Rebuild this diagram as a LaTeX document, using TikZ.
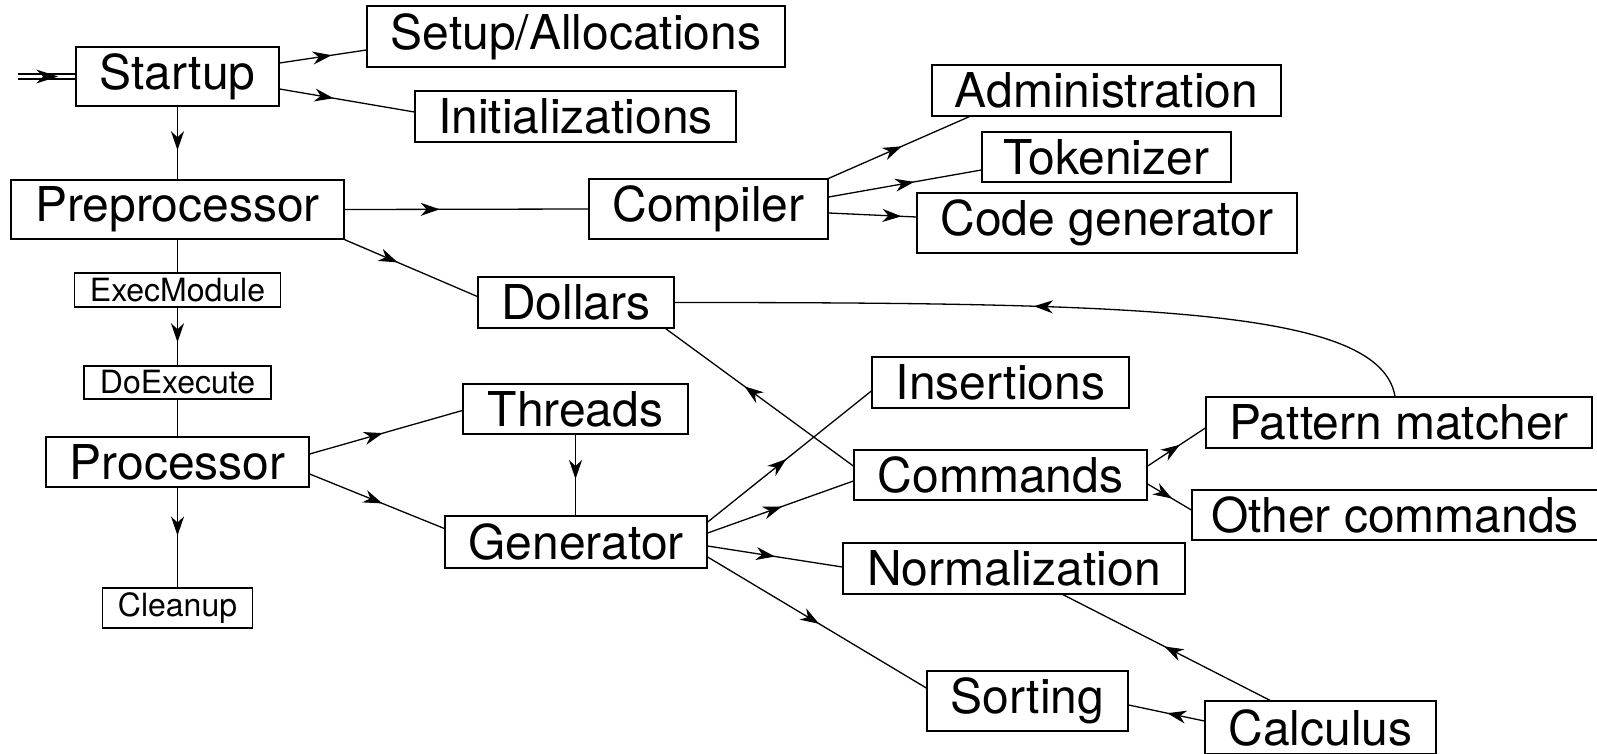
\documentclass[tikz,border=0pt]{standalone}
\usepackage{fontspec}
\setmainfont{TeX Gyre Heros}
\usetikzlibrary{arrows.meta,decorations.markings,calc}
\tikzset{
  box/.style={draw, line width=1.3pt, inner sep=0pt, font=\fontsize{48}{57}\selectfont},
  sbox/.style={box, font=\fontsize{32}{38}\selectfont},
  conn/.style={line width=1.3pt},
  midarrow/.style={postaction={decorate}, decoration={markings, mark=at position #1 with {\arrow{Stealth[length=19pt,width=13pt,inset=6pt]}}}},
}
\begin{document}
\begin{tikzpicture}[x=1pt,y=-1pt]
\useasboundingbox (0,0) rectangle (1597,753);
% nodes
\node[box, minimum width=203pt, minimum height=59pt] (startup) at (177.5,76.5) {Startup};
\node[box, minimum width=418pt, minimum height=61pt] (setup) at (576,36.5) {Setup/Allocations};
\node[box, minimum width=321pt, minimum height=51pt] (init) at (575.5,116.5) {Initializations};
\node[box, minimum width=333pt, minimum height=59pt] (preproc) at (177.5,209.5) {Preprocessor};
\node[box, minimum width=239pt, minimum height=60pt] (compiler) at (708.5,209) {Compiler};
\node[box, minimum width=349pt, minimum height=51pt] (admin) at (1106.5,90.5) {Administration};
\node[box, minimum width=249pt, minimum height=50pt] (token) at (1106.5,157) {Tokenizer};
\node[box, minimum width=380pt, minimum height=60pt] (codegen) at (1107,223) {Code generator};
\node[sbox, minimum width=206pt, minimum height=34pt] (execm) at (177.5,290) {ExecModule};
\node[box, minimum width=196pt, minimum height=51pt] (dollars) at (576,302.5) {Dollars};
\node[sbox, minimum width=187pt, minimum height=33pt] (doexec) at (177.5,382.5) {DoExecute};
\node[box, minimum width=263pt, minimum height=50pt] (proc) at (177.5,462) {Processor};
\node[box, minimum width=225pt, minimum height=50pt] (threads) at (575.5,409) {Threads};
\node[box, minimum width=257pt, minimum height=51pt] (insert) at (1000.5,382.5) {Insertions};
\node[box, minimum width=386pt, minimum height=51pt] (pm) at (1399,422.5) {Pattern matcher};
\node[box, minimum width=293pt, minimum height=50pt] (commands) at (1000.5,475) {Commands};
\node[box, minimum width=406pt, minimum height=50pt] (other) at (1395,515) {Other commands};
\node[box, minimum width=262pt, minimum height=52pt] (gen) at (576,542) {Generator};
\node[box, minimum width=342pt, minimum height=51pt] (norm) at (1014,568.5) {Normalization};
\node[sbox, minimum width=150pt, minimum height=40pt] (cleanup) at (177.5,608) {Cleanup};
\node[box, minimum width=201pt, minimum height=60pt] (sorting) at (1027.5,701) {Sorting};
\node[box, minimum width=231pt, minimum height=53pt] (calc) at (1320.5,727.5) {Calculus};
% entry
\coordinate (in) at (18,76.5);
\coordinate (intip) at ($(in)!0.7!(startup.west)$);
\draw[line width=1.3pt, double, double distance=3.5pt] (in) -- (startup.west);
\fill (intip) -- ++(-22,-7) -- ++(7,7) -- ++(-7,7) -- cycle;
% connectors
\draw[conn, midarrow=0.6] ($(startup.east)+(0,-13.5)$) -- ($(setup.west)+(0,13.5)$);
\draw[conn, midarrow=0.4] ($(startup.east)+(0,12.5)$) -- ($(init.west)+(0,-4.5)$);
\draw[conn, midarrow=0.6] (startup.south) -- (preproc.north);
\draw[conn, midarrow=0.39] (preproc.east) -- (compiler.west);
\draw[conn, midarrow=0.4] (preproc.south east) -- ($(dollars.west)+(0,-6)$);
\draw[conn, midarrow=0.52] (compiler.north east) -- ($(admin.south west)+(38,0)$);
\draw[conn, midarrow=0.56] ($(compiler.east)+(0,-12)$) -- ($(token.west)+(0,13)$);
\draw[conn, midarrow=0.83] ($(compiler.east)+(0,4)$) -- ($(codegen.west)+(0,-6)$);
\draw[conn] (preproc.south) -- (execm.north);
\draw[conn, midarrow=0.6] (execm.south) -- (doexec.north);
\draw[conn] (doexec.south) -- (proc.north);
\draw[conn, midarrow=0.48] (proc.south) -- (cleanup.north);
\draw[conn, midarrow=0.48] ($(proc.east)+(0,-8)$) -- ($(threads.west)+(0,1.5)$);
\draw[conn, midarrow=0.54] ($(proc.east)+(0,12)$) -- ($(gen.west)+(0,-13.5)$);
\draw[conn, midarrow=0.55] (threads.south) -- (threads.south |- gen.north);
\draw[conn, midarrow=0.48] ($(gen.east)+(0,-20)$) -- ($(insert.west)+(0,8.5)$);
\draw[conn, midarrow=0.51] ($(gen.east)+(0,-9)$) -- ($(commands.west)+(0,6)$);
\draw[conn, midarrow=0.5] ($(gen.east)+(0,4)$) -- ($(norm.west)+(0,-1.5)$);
\draw[conn, midarrow=0.51] ($(gen.east)+(0,15)$) -- ($(sorting.west)+(0,-13)$);
\draw[conn, midarrow=0.58] ($(commands.west)+(0,-9)$) -- ($(dollars.south east)+(-9,0)$);
\draw[conn, midarrow=0.56] ($(commands.east)+(0,-9)$) -- ($(pm.west)+(0,5.5)$);
\draw[conn, midarrow=0.56] ($(commands.east)+(0,9)$) -- ($(other.west)+(0,-5)$);
\draw[conn, midarrow=0.52] ($(pm.north)+(-4,0)$) .. controls +(-15,-87) and +(476,0) .. (dollars.east);
\draw[conn, midarrow=0.51] ($(calc.north)+(-50.5,0)$) -- ($(norm.south)+(49,0)$);
\draw[conn, midarrow=0.49] ($(calc.west)+(0,-6.5)$) -- ($(sorting.east)+(0,4)$);
\end{tikzpicture}
\end{document}
